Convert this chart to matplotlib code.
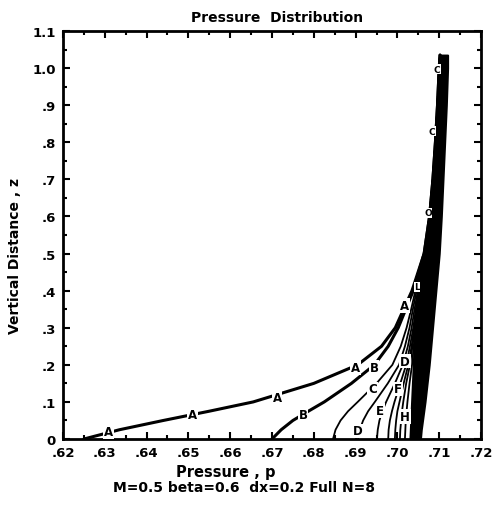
import numpy as np
import matplotlib
matplotlib.use('Agg')
import matplotlib.pyplot as plt

# vertical stations z and pressure p of each curve at those stations
z = [0, .025, .05, .075, .1, .15, .2, .25, .3, .35, .4, .5, .6, .7, .8, .9, 1.0, 1.035]

curves = {
    'A': [.6250, .6335, .6440, .6550, .6655, .6800, .6905, .6962, .6995, .7015, .7035, .7064, .7077, .7085, .7091, .7096, .7100, .7102],
    'B': [.6700, .6722, .6750, .6787, .6825, .6890, .6945, .6978, .7002, .7020, .7038, .7064, .7077, .7085, .7091, .7096, .7100, .7102],
    'C': [.6846, .6852, .6864, .6882, .6905, .6950, .6988, .7008, .7022, .7033, .7043, .7066, .7077, .7085, .7091, .7096, .7100, .7102],
    'D': [.6906, .6910, .6918, .6930, .6946, .6977, .7004, .7018, .7029, .7037, .7046, .7066, .7077, .7085, .7091, .7096, .7100, .7102],
    'E': [.6951, .6953, .6957, .6964, .6973, .6994, .7013, .7025, .7034, .7041, .7049, .7066, .7077, .7085, .7091, .7096, .7100, .7102],
    'F': [.6978, .6979, .6982, .6987, .6993, .7007, .7021, .7030, .7038, .7044, .7051, .7066, .7077, .7085, .7091, .7096, .7100, .7102],
    'G': [.6994, .6995, .6997, .7000, .7005, .7015, .7026, .7034, .7040, .7046, .7052, .7066, .7077, .7085, .7091, .7096, .7100, .7102],
    'H': [.7006, .7007, .7009, .7011, .7014, .7021, .7030, .7036, .7042, .7047, .7053, .7066, .7077, .7085, .7091, .7096, .7100, .7102],
    'I': [.7018, .7019, .7020, .7022, .7024, .7029, .7035, .7039, .7044, .7049, .7054, .7066, .7077, .7085, .7091, .7096, .7100, .7102],
}

# dense bundle of the remaining curves (edges of the black band)
band_left = [.7030, .7031, .7032, .7033, .7034, .7036, .7038, .7040, .7043, .7047, .7052, .7066, .7077, .7085, .7091, .7096, .7100, .7102]
band_right = [.7055, .7057, .7060, .7063, .7066, .7071, .7076, .7080, .7084, .7088, .7092, .7100, .7105, .7109, .7113, .7117, .7120, .7120]

# letter markers drawn on the curves
marks = [('A', .6308, .019), ('A', .6509, .067), ('A', .6712, .113), ('A', .6899, .192), ('A', .7018, .360),
         ('B', .6774, .067), ('B', .6944, .192),
         ('C', .6940, .135),
         ('D', .6906, .022),
         ('E', .6958, .076),
         ('F', .7001, .135), ('H', .7018, .060), ('D', .7018, .210)]
band_marks = [('C', .7095, .997), ('C', .7083, .830), ('O', .7073, .610), ('L', .7047, .410)]

plt.figure(figsize=(4.94, 5.06), dpi=100)
ax = plt.axes([0.1275, 0.1304, 0.8462, 0.8064])

for name, p in curves.items():
    lw = 2.2 if name in 'AB' else 1.3
    ax.plot(p, z, color='black', lw=lw, solid_capstyle='round')
ax.fill_betweenx(z, band_left, band_right, color='black', lw=1.5, edgecolor='black')

for s, px, pz in marks:
    ax.text(px, pz, s, ha='center', va='center', fontsize=8.5, fontweight='bold',
            bbox=dict(fc='white', ec='none', pad=0.6), zorder=5)
for s, px, pz in band_marks:
    ax.text(px, pz, s, ha='center', va='center', fontsize=6.5, fontweight='bold',
            bbox=dict(fc='white', ec='none', pad=0.2), zorder=5)

ax.set_xlim(0.62, 0.72)
ax.set_ylim(0, 1.1)
xt = np.arange(62, 73) / 100
ax.set_xticks(xt)
ax.set_xticklabels(['.%d' % v for v in range(62, 73)])
ax.set_xticks(np.arange(620, 721, 5) / 1000, minor=True)
yt = np.arange(0, 12) / 10
ax.set_yticks(yt)
ax.set_yticklabels(['0', '.1', '.2', '.3', '.4', '.5', '.6', '.7', '.8', '.9', '1.0', '1.1'])
ax.set_yticks(np.arange(0, 23) / 20, minor=True)
ax.tick_params(which='both', direction='in', top=True, right=True, width=1.5,
               labelsize=9.5, pad=5)
ax.tick_params(which='major', length=5)
ax.tick_params(which='minor', length=3)
for lab in ax.get_xticklabels() + ax.get_yticklabels():
    lab.set_fontweight('bold')
for sp in ax.spines.values():
    sp.set_linewidth(2)

fig = plt.gcf()
fig.text(277 / 494, 1 - 18 / 506, 'Pressure  Distribution', ha='center', va='center',
         fontsize=10, fontweight='bold')
fig.text(226 / 494, 1 - 473 / 506, 'Pressure , p', ha='center', va='center',
         fontsize=10.5, fontweight='bold')
fig.text(244 / 494, 1 - 488 / 506, 'M=0.5 beta=0.6  dx=0.2 Full N=8', ha='center', va='center',
         fontsize=10, fontweight='bold')
fig.text(15 / 494, 1 - 256 / 506, 'Vertical Distance , z', ha='center', va='center',
         rotation=90, fontsize=10, fontweight='bold')

plt.savefig('out.png', dpi=100)
